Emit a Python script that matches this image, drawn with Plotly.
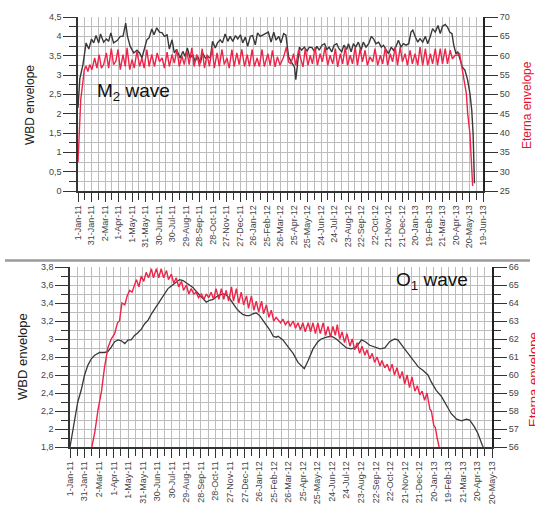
import plotly.graph_objects as go
import pandas as pd

# ---------------- data ----------------
# Top panel (M2 wave): day offsets from 1-Jan-2011
m2_wbd_day = [0, 4, 11, 18, 24, 30, 35, 40, 46, 50, 57, 63, 68, 73, 79, 87, 94, 100, 106, 110,
              116, 124, 131, 137, 142, 147, 153, 158, 164, 169, 175, 181, 187, 192, 198, 203, 209,
              214, 219, 227, 233, 238, 243, 249, 255, 260, 266, 272, 277, 283, 288, 294, 299, 305,
              310, 316, 321, 327, 333, 338, 344, 350, 355, 361, 366, 372, 377, 383, 388, 394, 399,
              405, 412, 423, 429, 435, 440, 446, 451, 457, 462, 465, 468, 474, 477, 481, 484, 489,
              492, 497, 503, 509, 514, 520, 526, 531, 536, 542, 548, 553, 558, 564, 569, 575, 580,
              586, 591, 597, 601, 607, 612, 617, 623, 629, 634, 640, 646, 652, 657, 662, 668, 674,
              679, 684, 690, 696, 701, 706, 712, 718, 723, 729, 735, 740, 744, 749, 755, 760, 766,
              772, 777, 783, 788, 794, 800, 805, 810, 816, 821, 826, 831, 835, 840, 844, 849, 854,
              860, 866, 871, 875, 878, 881]
m2_wbd_val = [2.15, 2.9, 3.27, 3.83, 3.67, 3.93, 3.83, 4.02, 3.83, 4.06, 3.85, 3.93, 3.87, 4.09,
              3.83, 3.89, 4.0, 4.0, 4.34, 4.0, 3.74, 3.57, 3.64, 3.57, 3.44, 3.66, 3.91, 3.96, 4.19,
              4.04, 4.22, 4.11, 4.09, 4.0, 4.04, 3.67, 3.91, 3.57, 3.66, 3.44, 3.61, 3.48, 3.7, 3.44,
              3.53, 3.35, 3.48, 3.31, 3.57, 3.44, 3.48, 3.44, 3.87, 3.7, 3.83, 3.91, 3.83, 4.06,
              3.87, 4.0, 3.87, 4.02, 3.93, 4.04, 3.83, 3.98, 3.74, 4.0, 4.02, 3.78, 4.09, 4.0, 4.04,
              4.11, 3.85, 4.11, 3.9, 4.0, 3.83, 4.07, 4.03, 3.81, 3.47, 3.34, 3.29, 3.21, 2.88,
              3.47, 3.72, 3.64, 3.72, 3.62, 3.72, 3.71, 3.6, 3.74, 3.64, 3.77, 3.81, 3.66, 3.72,
              3.6, 3.77, 3.81, 3.68, 3.6, 3.77, 3.66, 3.81, 3.6, 3.81, 3.72, 3.85, 3.64, 3.85,
              3.72, 3.81, 4.0, 3.93, 3.81, 3.85, 3.72, 3.77, 3.66, 3.55, 3.72, 3.64, 3.72, 3.9,
              3.72, 3.81, 3.77, 3.81, 4.11, 4.16, 4.0, 3.85, 3.94, 3.85, 4.0, 3.81, 4.0, 4.2, 4.11,
              4.28, 4.07, 4.26, 4.31, 4.24, 4.11, 4.07, 3.77, 3.55, 3.6, 3.38, 3.21, 3.12, 2.86,
              2.52, 2.09, 1.48, 0.2]

m2_eterna_day = [0, 2, 6, 14, 18, 22, 26, 31, 37, 42, 47, 52, 57, 63, 68, 74, 79, 84, 89, 94, 100,
                 105, 109, 115, 120, 125, 131, 137, 142, 147, 153, 158, 164, 170, 176, 181, 187,
                 192, 198, 203, 209, 214, 220, 225, 231, 236, 242, 247, 253, 258, 264, 270, 276,
                 281, 287, 292, 298, 303, 309, 314, 320, 325, 331, 336, 342, 347, 353, 358, 364,
                 370, 376, 381, 387, 392, 398, 403, 409, 414, 422, 427, 432, 438, 443, 449, 457,
                 463, 468, 473, 479, 484, 490, 496, 500, 505, 511, 516, 521, 527, 532, 538, 543,
                 549, 555, 560, 566, 572, 577, 583, 588, 594, 599, 605, 610, 616, 621, 627, 632,
                 638, 643, 649, 655, 660, 666, 672, 677, 683, 688, 694, 699, 705, 710, 716, 721,
                 727, 732, 738, 743, 749, 755, 760, 766, 772, 777, 783, 788, 794, 799, 805, 810,
                 816, 821, 827, 832, 838, 843, 848, 853, 858, 863, 866, 871, 877]
m2_eterna_val = [32.5, 38.0, 48.5, 56.3, 57.3, 55.9, 57.7, 56.4, 59.4, 56.8, 60.3, 56.8, 57.7, 60.7,
                 56.8, 61.8, 57.7, 58.5, 61.6, 56.4, 60.3, 57.2, 62.0, 56.4, 59.0, 56.8, 61.2,
                 57.2, 59.4, 56.8, 61.6, 57.2, 60.3, 57.2, 60.7, 58.5, 59.4, 56.8, 60.9, 57.2,
                 60.3, 58.1, 61.6, 57.2, 59.9, 57.7, 61.2, 57.7, 62.0, 57.2, 60.3, 57.2, 61.8,
                 56.8, 60.3, 57.2, 62.0, 56.8, 60.7, 57.2, 61.6, 57.7, 59.4, 56.8, 61.6, 57.2,
                 60.7, 57.7, 61.6, 57.2, 60.3, 57.2, 61.6, 57.2, 59.4, 57.2, 61.6, 57.2, 60.5,
                 57.5, 61.4, 57.1, 59.7, 57.5, 59.7, 62.2, 58.4, 57.9, 60.5, 57.5, 61.4, 58.8,
                 57.1, 61.8, 57.5, 60.1, 57.9, 62.2, 57.5, 60.5, 58.4, 62.2, 57.5, 60.1, 57.9,
                 61.8, 57.1, 60.5, 57.9, 62.2, 57.5, 60.1, 57.9, 62.2, 57.5, 61.8, 58.4, 61.4,
                 57.5, 59.7, 58.4, 61.8, 57.5, 60.1, 57.9, 62.2, 57.5, 60.5, 58.4, 62.2, 57.5,
                 62.2, 58.4, 60.5, 57.5, 61.4, 57.9, 60.5, 57.5, 62.2, 57.5, 61.8, 57.5, 60.5,
                 57.9, 61.8, 57.5, 61.8, 57.9, 61.8, 57.9, 61.4, 59.2, 60.1, 60.1, 60.5, 57.1,
                 54.5, 50.2, 45.0, 39.8, 26.3]

# Bottom panel (O1 wave)
o1_wbd_day = [0, 10, 16, 23, 30, 37, 44, 51, 61, 71, 78, 85, 92, 99, 106, 113, 120, 126, 133, 140,
              147, 154, 161, 168, 175, 181, 188, 195, 202, 209, 216, 226, 233, 240, 247, 254, 260,
              267, 274, 281, 288, 295, 302, 309, 316, 322, 329, 336, 343, 350, 357, 364, 370, 377,
              384, 391, 398, 405, 412, 419, 425, 429, 439, 450, 460, 470, 483, 491, 501, 511, 518,
              529, 539, 549, 560, 570, 580, 590, 601, 609, 618, 628, 639, 649, 659, 669, 676, 687,
              697, 707, 718, 728, 738, 745, 755, 766, 776, 786, 797, 807, 817, 824, 834, 841, 850,
              852]
o1_wbd_val = [1.8, 2.11, 2.3, 2.43, 2.6, 2.71, 2.78, 2.82, 2.85, 2.85, 2.86, 2.91, 2.97, 2.99,
              2.98, 2.95, 2.99, 2.99, 3.04, 3.07, 3.11, 3.17, 3.21, 3.28, 3.34, 3.39, 3.45, 3.5,
              3.56, 3.59, 3.62, 3.66, 3.65, 3.62, 3.6, 3.57, 3.53, 3.49, 3.45, 3.41, 3.43, 3.44,
              3.47, 3.49, 3.5, 3.49, 3.45, 3.39, 3.34, 3.3, 3.27, 3.26, 3.26, 3.28, 3.29, 3.26,
              3.21, 3.15, 3.1, 3.03, 3.02, 3.03, 2.99, 2.91, 2.84, 2.74, 2.67, 2.76, 2.89, 2.97,
              3.0, 3.02, 3.03, 3.0, 2.95, 2.9, 2.89, 2.91, 2.99, 2.97, 2.93, 2.91, 2.89, 2.9, 2.97,
              3.0, 2.99, 2.91, 2.84, 2.76, 2.69, 2.65, 2.6, 2.52, 2.43, 2.36, 2.26, 2.17, 2.11,
              2.09, 2.11, 2.1, 2.02, 1.95, 1.82, 1.8]

o1_eterna_day = [45, 51, 58, 65, 71, 78, 85, 92, 98, 102, 107, 113, 118, 123, 128, 132, 137, 142,
                 147, 152, 157, 162, 168, 172, 178, 183, 188, 193, 199, 203, 209, 214, 219, 224,
                 230, 234, 240, 245, 250, 255, 260, 265, 271, 276, 281, 286, 291, 296, 301, 307,
                 312, 317, 322, 327, 333, 337, 343, 348, 353, 358, 364, 368, 374, 379, 384, 389,
                 395, 399, 405, 410, 415, 420, 425, 434, 439, 444, 450, 454, 460, 465, 470, 475,
                 480, 485, 491, 496, 501, 506, 511, 516, 522, 527, 532, 537, 542, 547, 551, 556,
                 561, 566, 571, 577, 582, 587, 592, 597, 602, 608, 612, 618, 623, 628, 633, 639,
                 643, 649, 654, 659, 664, 669, 674, 680, 685, 690, 695, 700, 705, 711, 716, 721,
                 726, 731, 736, 742, 745, 750, 753, 757, 761]
o1_eterna_val = [56.0, 56.8, 58.1, 59.1, 60.4, 61.5, 62.0, 62.3, 62.9, 63.0, 64.0, 63.9, 64.4,
                 64.7, 64.6, 64.9, 65.3, 64.9, 65.5, 65.2, 65.7, 65.4, 65.9, 65.4, 65.9, 65.4,
                 65.9, 65.4, 65.8, 65.3, 65.6, 65.1, 65.4, 64.9, 65.2, 64.7, 65.0, 64.5, 64.8,
                 64.5, 64.6, 64.3, 64.5, 64.2, 64.5, 64.3, 64.6, 64.2, 64.8, 64.2, 64.8, 64.2,
                 64.7, 64.1, 64.9, 64.1, 64.8, 64.0, 64.6, 63.9, 64.4, 63.7, 64.4, 63.6, 64.1,
                 63.5, 64.1, 63.4, 63.9, 63.2, 63.6, 63.0, 63.2, 62.9, 63.1, 62.8, 63.0, 62.7,
                 63.0, 62.6, 62.9, 62.5, 62.9, 62.4, 62.9, 62.4, 62.9, 62.3, 62.9, 62.3, 62.9,
                 62.2, 62.7, 62.1, 62.7, 62.2, 62.8, 62.0, 62.4, 61.8, 62.3, 61.6, 62.0, 61.4,
                 61.8, 61.2, 61.6, 61.1, 61.4, 60.9, 61.2, 60.7, 61.0, 60.5, 60.8, 60.4, 60.6,
                 60.2, 60.6, 60.0, 60.4, 59.8, 60.2, 59.5, 60.0, 59.3, 59.9, 59.1, 59.4, 58.9,
                 59.1, 58.6, 59.0, 58.1, 58.0, 57.2, 57.1, 56.5, 56.0]

# tick labels
m2_x_labels = ["1-Jan-11", "31-Jan-11", "2-Mar-11", "1-Apr-11", "1-May-11", "31-May-11",
               "30-Jun-11", "30-Jul-11", "29-Aug-11", "28-Sep-11", "28-Oct-11", "27-Nov-11",
               "27-Dec-11", "26-Jan-12", "25-Feb-12", "26-Mar-12", "25-Apr-12", "25-May-12",
               "24-Jun-12", "24-Jul-12", "23-Aug-12", "22-Sep-12", "22-Oct-12", "21-Nov-12",
               "21-Dec-12", "20-Jan-13", "19-Feb-13", "21-Mar-13", "20-Apr-13", "20-May-13",
               "19-Jun-13"]
o1_x_labels = m2_x_labels[:-1]
m2_left_ticks = [0, 0.5, 1, 1.5, 2, 2.5, 3, 3.5, 4, 4.5]
m2_right_ticks = [25, 30, 35, 40, 45, 50, 55, 60, 65, 70]
o1_left_ticks = [1.8, 2.0, 2.2, 2.4, 2.6, 2.8, 3.0, 3.2, 3.4, 3.6, 3.8]
o1_right_ticks = [56, 57, 58, 59, 60, 61, 62, 63, 64, 65, 66]

# ---------------- figure ----------------
W, H = 535, 509
BASE = pd.Timestamp("2011-01-01")
BLACK = "#383838"
RED = "#ee2449"
GRID = "#bdbdbd"
AXC = "#333333"
TICKF = dict(family="Liberation Sans, Arial, sans-serif", size=9, color="#444444")
DAY_MS = 86400000


def px(x):
    return x / W


def py(y):
    return 1 - y / H


def dates(days):
    return list(BASE + pd.to_timedelta(days, unit="D"))


def lab(v):
    return f"{v:g}".replace(".", ",")


def xdates(labels):
    return [d.strftime("%Y-%m-%d") for d in pd.to_datetime(labels, format="%d-%b-%y")]


fig = go.Figure()
fig.add_trace(go.Scatter(x=dates(m2_wbd_day), y=m2_wbd_val, xaxis="x", yaxis="y",
                         mode="lines", line=dict(color=BLACK, width=1.4)))
fig.add_trace(go.Scatter(x=dates(m2_eterna_day), y=m2_eterna_val, xaxis="x", yaxis="y2",
                         mode="lines", line=dict(color=RED, width=1.4)))
fig.add_trace(go.Scatter(x=dates(o1_wbd_day), y=o1_wbd_val, xaxis="x2", yaxis="y3",
                         mode="lines", line=dict(color=BLACK, width=1.3)))
fig.add_trace(go.Scatter(x=dates(o1_eterna_day), y=o1_eterna_val, xaxis="x2", yaxis="y4",
                         mode="lines", line=dict(color=RED, width=1.4)))


def xaxis_cfg(domain, anchor, labels, rng):
    return dict(domain=domain, anchor=anchor, type="date", range=rng,
                tickmode="array", tickvals=xdates(labels), ticktext=labels,
                tickangle=-90, tickfont=TICKF, ticks="outside", ticklen=9, tickwidth=1,
                tickcolor=AXC, showline=True, linecolor=AXC, linewidth=1.5,
                showgrid=True, gridcolor=GRID, gridwidth=1, zeroline=False,
                automargin=False,
                minor=dict(tickmode="linear", tick0="2011-01-01", dtick=15 * DAY_MS,
                           ticks="outside", ticklen=7, tickcolor=AXC, showgrid=True,
                           gridcolor=GRID, gridwidth=1))


def yleft_cfg(domain, anchor, ticks, rng, minor):
    return dict(domain=domain, anchor=anchor, range=rng, tickmode="array", tickvals=ticks,
                ticktext=[lab(v) for v in ticks], tickfont=TICKF, ticks="outside",
                ticklen=13, tickcolor=AXC, showline=True, linecolor=AXC, linewidth=1.5,
                showgrid=True, gridcolor=GRID, gridwidth=1, zeroline=False, automargin=False,
                minor=dict(tickmode="linear", tick0=rng[0], dtick=minor, ticks="outside",
                           ticklen=7, tickcolor=AXC, showgrid=True, gridcolor=GRID,
                           gridwidth=1))


def yright_cfg(overlay, anchor, ticks, rng, minor):
    return dict(overlaying=overlay, anchor=anchor, side="right", range=rng, tickmode="array",
                tickvals=ticks, ticktext=[lab(v) for v in ticks], tickfont=TICKF,
                ticks="outside", ticklen=13, tickcolor=AXC, showline=True, linecolor="#222222",
                linewidth=2, showgrid=False, zeroline=False, automargin=False,
                minor=dict(tickmode="linear", tick0=rng[0], dtick=minor, ticks="outside",
                           ticklen=7, tickcolor=AXC, showgrid=False))


fig.update_layout(
    width=W, height=H, margin=dict(l=0, r=0, t=0, b=0),
    paper_bgcolor="white", plot_bgcolor="white", showlegend=False,
    font=dict(family="Liberation Sans, Arial, sans-serif"),
    xaxis=xaxis_cfg([px(78), px(483)], "y", m2_x_labels, ["2011-01-01", "2013-06-19"]),
    yaxis=yleft_cfg([py(191), py(17)], "x", m2_left_ticks, [0, 4.5], 0.25),
    yaxis2=yright_cfg("y", "x", m2_right_ticks, [25, 70], 2.5),
    xaxis2=xaxis_cfg([px(70), px(492)], "y3", o1_x_labels, ["2011-01-01", "2013-05-20"]),
    yaxis3=yleft_cfg([py(447), py(267)], "x2", o1_left_ticks, [1.8, 3.8], 0.1),
    yaxis4=yright_cfg("y3", "x2", o1_right_ticks, [56, 66], 0.5),
)

ann_font = dict(family="Liberation Sans, Arial, sans-serif", size=12)
annotations = [
    dict(text="WBD envelope", x=px(30), y=py(105), textangle=-90,
         font=dict(ann_font, color="#222222")),
    dict(text="Eterna envelope", x=px(527), y=py(105), textangle=-90,
         font=dict(ann_font, color="#e8112d")),
    dict(text="WBD envelope", x=px(22), y=py(357), textangle=-90,
         font=dict(ann_font, size=13, color="#222222")),
    dict(text="Eterna envelope", x=px(533), y=py(380), textangle=-90,
         font=dict(ann_font, size=13, color="#e8112d")),
    dict(text="M<sub>2</sub> wave", x=px(95), y=py(92), xanchor="left",
         font=dict(family="Liberation Sans, Arial, sans-serif", size=19, color="#111111")),
    dict(text="O<sub>1</sub> wave", x=px(394), y=py(281), xanchor="left",
         font=dict(family="Liberation Sans, Arial, sans-serif", size=19, color="#111111")),
]
for a in annotations:
    a.setdefault("xanchor", "center")
    fig.add_annotation(xref="paper", yref="paper", showarrow=False, yanchor="middle", **a)

fig.add_shape(type="line", xref="paper", yref="paper", x0=px(5), x1=px(530),
              y0=py(260.5), y1=py(260.5), line=dict(color="#9a9a9a", width=2.5))

fig.write_html("out.html")
